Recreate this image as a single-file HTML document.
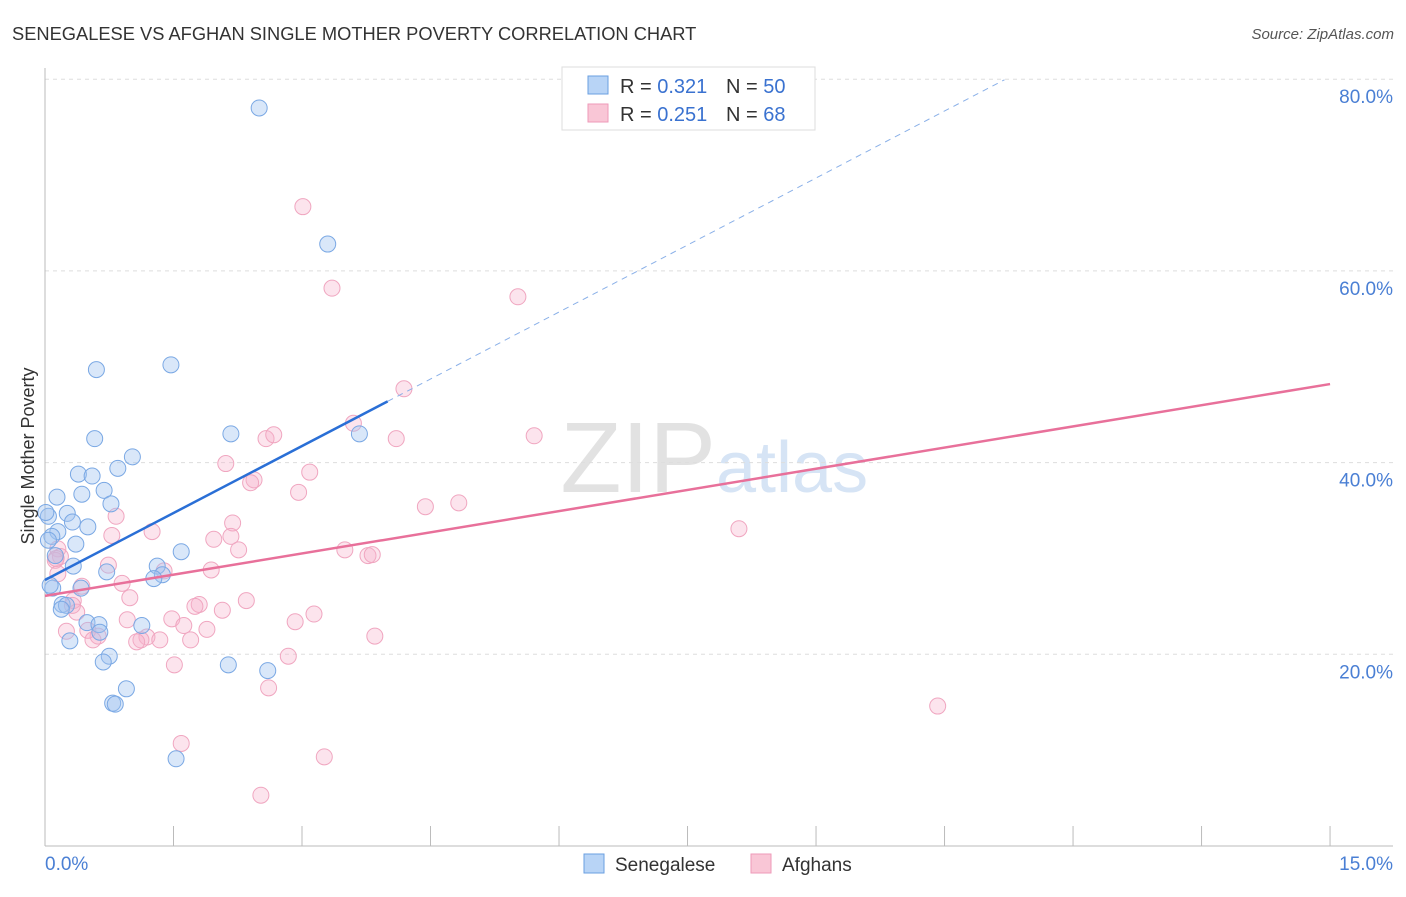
<!DOCTYPE html>
<html><head><meta charset="utf-8"><style>
body{margin:0;background:#fff;font-family:"Liberation Sans",sans-serif;}
svg text{font-family:"Liberation Sans",sans-serif;}
</style></head><body>
<svg id="c" width="1406" height="892" xmlns="http://www.w3.org/2000/svg">
<text x="12" y="40" font-size="18.3" fill="#333">SENEGALESE VS AFGHAN SINGLE MOTHER POVERTY CORRELATION CHART</text>
<text x="1394" y="39" font-size="15" fill="#555" text-anchor="end" font-style="italic">Source: ZipAtlas.com</text>
<text x="716" y="492" font-size="100" fill="#e2e2e2" text-anchor="end" font-family="Liberation Serif">ZIP</text>
<text x="716" y="492" font-size="72" fill="#d6e4f5">atlas</text>
<g id="grid"></g><g id="marks"></g>
<text transform="translate(34,456) rotate(-90)" font-size="18" fill="#333" text-anchor="middle">Single Mother Poverty</text>
<g>
<rect x="562" y="67" width="253" height="63" fill="#fff" stroke="#ddd"/>
<rect x="588" y="76" width="20" height="18" fill="#b8d4f6" stroke="#6a9fe0"/>
<rect x="588" y="104" width="20" height="18" fill="#f9c6d6" stroke="#ee9ab8"/>
<text x="620" y="93" font-size="20" fill="#333">R = <tspan fill="#3a72d0">0.321</tspan></text>
<text x="726" y="93" font-size="20" fill="#333">N = <tspan fill="#3a72d0">50</tspan></text>
<text x="620" y="121" font-size="20" fill="#333">R = <tspan fill="#3a72d0">0.251</tspan></text>
<text x="726" y="121" font-size="20" fill="#333">N = <tspan fill="#3a72d0">68</tspan></text>
</g>
<g>
<rect x="584" y="854" width="20" height="19" fill="#b8d4f6" stroke="#6a9fe0"/>
<text x="615" y="871" font-size="19" fill="#333">Senegalese</text>
<rect x="751" y="854" width="20" height="19" fill="#f9c6d6" stroke="#ee9ab8"/>
<text x="782" y="871" font-size="19" fill="#333">Afghans</text>
</g>
</svg>
<script>
const yTicks=[20,40,60,80];
const yTickLabels=["20.0%","40.0%","60.0%","80.0%"];
const xTicks=[0,1.5,3,4.5,6,7.5,9,10.5,12,13.5,15];
const xEndLabels=["0.0%","15.0%"];
const blueLine=[27.75,4.66,4.0,11.2]; // intercept, slope, solid end, dashed end
const pinkLine=[26.1,1.473];
const bluePx=[[259,108],[328,244],[171,365],[96,370],[231,434],[359,434],[95,439],[132,457],[118,468],[78,474],[92,476],[104,490],[82,494],[57,497],[111,504],[67,513],[48,516],[72,522],[88,527],[58,532],[52,536],[76,544],[181,552],[55,556],[73,566],[157,566],[107,572],[162,575],[154,579],[81,588],[53,588],[62,604],[66,605],[61,609],[87,623],[99,625],[142,626],[100,632],[70,641],[109,656],[103,662],[228,665],[268,671],[126,689],[113,703],[115,704],[176,759],[46,512],[48,540],[50,585]];
const pinkPx=[[303,207],[332,288],[518,297],[404,389],[353,423],[534,436],[266,439],[274,435],[396,439],[226,464],[310,472],[254,480],[251,483],[299,492],[459,503],[425,507],[116,516],[233,523],[152,532],[112,535],[214,539],[231,536],[58,549],[239,550],[345,550],[368,556],[372,555],[60,557],[55,560],[108,565],[211,570],[164,571],[58,574],[122,583],[82,586],[246,601],[130,598],[73,601],[199,604],[195,606],[77,612],[314,614],[222,610],[172,619],[127,620],[295,622],[184,626],[88,630],[66,631],[207,629],[98,636],[93,640],[147,637],[160,640],[141,640],[137,642],[191,640],[375,636],[288,656],[174,665],[269,688],[739,529],[938,706],[181,743],[324,757],[261,795],[56,558],[72,605]];
const toVal=p=>[+((p[0]-45)/85.67).toFixed(2),+((846-p[1])/9.585).toFixed(1)];
const blueX=bluePx.map(p=>toVal(p)[0]), blueY=bluePx.map(p=>toVal(p)[1]);
const pinkX=pinkPx.map(p=>toVal(p)[0]), pinkY=pinkPx.map(p=>toVal(p)[1]);
const X=v=>45+v*85.67, Y=v=>846-v*9.585;
const NS="http://www.w3.org/2000/svg";
function mk(t,a,parent){const e=document.createElementNS(NS,t);for(const k in a)e.setAttribute(k,a[k]);parent.appendChild(e);return e;}
const g=document.getElementById('grid'), m=document.getElementById('marks');
yTicks.forEach((t,i)=>{
 const l=mk('line',{x1:45,x2:1393,y1:Y(t),y2:Y(t),stroke:'#ddd','stroke-dasharray':'4,4'},g);
 
 
 const tx=mk('text',{x:1393,y:Y(t)+24,'font-size':19,fill:'#4a7fd4','text-anchor':'end'},g);
 tx.textContent=yTickLabels[i];
 
 
});
mk('line',{x1:45,x2:1393,y1:846,y2:846,stroke:'#bbb'},g);
mk('line',{x1:45,x2:45,y1:68,y2:846,stroke:'#bbb'},g);
xTicks.forEach(t=>{const l=mk('line',{x1:X(t),x2:X(t),y1:826,y2:846,stroke:'#bbb'},g);
 
 });
let a=mk('text',{x:45,y:870,'font-size':19,fill:'#4a7fd4'},g);a.textContent=xEndLabels[0];


a=mk('text',{x:1393,y:870,'font-size':19,fill:'#4a7fd4','text-anchor':'end'},g);a.textContent=xEndLabels[1];


pinkX.forEach((x,i)=>{const c=mk('circle',{cx:X(x),cy:Y(pinkY[i]),r:8,fill:'rgba(246,178,202,0.35)',stroke:'#f0a6c0','stroke-width':1},m);
 
 });
blueX.forEach((x,i)=>{const c=mk('circle',{cx:X(x),cy:Y(blueY[i]),r:8,fill:'rgba(160,196,240,0.4)',stroke:'#7aa8e4','stroke-width':1},m);
 
 });
const bl=v=>blueLine[0]+blueLine[1]*v;
let l=mk('line',{x1:X(0),y1:Y(bl(0)),x2:X(blueLine[2]),y2:Y(bl(blueLine[2])),stroke:'#2a6fd6','stroke-width':2.5},m);


l=mk('line',{x1:X(blueLine[2]),y1:Y(bl(blueLine[2])),x2:X(blueLine[3]),y2:Y(bl(blueLine[3])),stroke:'#8ab0e8','stroke-width':1,'stroke-dasharray':'6,5'},m);


l=mk('line',{x1:X(0),y1:Y(pinkLine[0]),x2:X(15),y2:Y(pinkLine[0]+pinkLine[1]*15),stroke:'#e8709a','stroke-width':2.5},m);


</script>
</body></html>
